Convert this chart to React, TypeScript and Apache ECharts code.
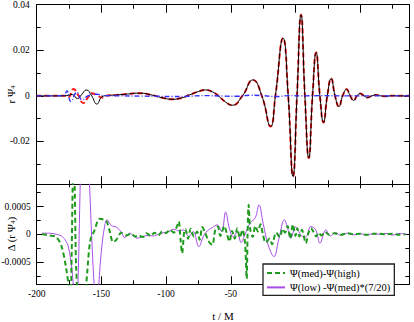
import React, { useEffect, useRef } from "react";
import * as echarts from "echarts";

// ---------- data ----------
const xMajorTicks = [-200, -150, -100, -50, 0, 50];
const xMinorTicks = [-175, -125, -75, -25, 25, 75];
const xTickLabels = [-200, -150, -100, -50];
const yTopMajor = [-0.02, 0, 0.02, 0.04];
const yTopMinor = [-0.03, -0.01, 0.01, 0.03];
const yBotMajor = [-0.0005, 0, 0.0005];
const yBotMinor = [-0.00075, -0.00025, 0.00025, 0.00075];

const tBlack = [-200, -185, -177, -172.5, -168.5, -165.5, -161.5, -157.5, -153.5, -149.5,
  -145, -138, -130, -120, -112, -103, -95.3, -88, -82, -75,
  -69.5, -64, -60, -54, -48.8, -41, -32.9, -26, -19.2, -15.5,
  -9.6, -5.6, -1.9, 1.2, 4.3, 7.3, 10.3, 13.2, 16, 18.9,
  21.7, 24.6, 27.6, 30.6, 33.6, 36.5, 39.5, 42.3, 45, 47.5,
  50, 53, 55.8, 59, 62.5, 66, 70, 75, 80, 88];
const vBlack = [0, 0, 0.0001, 0.0006, -0.0012, 0.0004, 0.0026, 0, -0.0036, -0.0004,
  0.0002, 0.0004, 0.0008, 0.0012, 0.0005, -0.0008, -0.0015, -0.0009, 0.0004, 0.0019,
  0.0026, 0.0017, 0.0002, -0.0027, -0.0041, 0, 0.007, 0, -0.0134, 0,
  0.0253, 0, -0.0353, 0, 0.0356, 0, -0.0273, 0, 0.019, 0,
  -0.0117, 0, 0.0076, 0, -0.0047, 0, 0.0029, 0, -0.002, 0,
  0.001, 0, -0.0007, 0, 0.0004, 0, -0.0002, 0.0001, 0, 0];

const tRedEarly = [-200, -185, -179, -175.5, -171.6, -168, -163.9, -160.5, -157.4, -153.5, -149.6, -146];
const vRedEarly = [0, 0, 0.0001, -0.0005, 0.003, 0.0004, -0.0031, -0.0008, 0.0012, 0.0002, -0.0007, 0.0001];

const tBlue = [-200, -185, -179, -176.7, -173.6, -169, -165, -160, -153.5, -148, -135, -120, -105, -95,
  -85, -70, -55, -45, -35, -25, -15, -5, 5, 20, 40, 60, 88];
const vBlue = [0, 0, 0.0002, 0.0022, -0.0025, 0.0016, -0.0017, 0.0001, 0.0007, 0.0001, 0, -0.0001, -0.0002, -0.0003,
  -0.0002, 0.0001, -0.0001, -0.0002, 0.0003, 0.0001, -0.0003, 0.0001, 0, 0.0001, 0, 0, 0];

const tPurple = [-196, -190, -185, -181, -178, -175.5, -173, -171, -169.5, -168, -166, -163, -160, -157, -155,
  -153.5, -152, -150, -147.6, -145.7, -142.4, -138.5, -134.7, -132, -128.2, -125, -122.5, -118, -114, -110,
  -106, -102, -98, -94, -90, -86.4, -82.5, -79, -74.7, -71, -68.2, -64.3, -60.5, -57, -54,
  -51, -48, -45, -42, -39, -35, -31, -28.2, -25, -21, -16.6, -13, -8.5, -6, -3.6,
  0.2, 2.5, 5.4, 8, 11.9, 15.7, 19, 23.5, 27, 31, 35, 40, 45, 50, 55,
  60, 65, 70, 75, 80, 86];
const vPurple = [0.00002, 0.00002, 0, -0.00003, -0.0001, -0.00023, -0.0006, -0.0011, -0.0015, -0.0008, 0.0012, 0.003, 0.0014, -0.0003, -0.0011,
  -0.0014, -0.0009, -0.0003, 0.00013, 0.00026, 0.00016, 0.00013, 0.00004, -0.00006, 0.00002, -0.00003, -0.00007, -0.00004, -0.00002, -0.00003,
  0, 0.00003, 0.00005, 0.00009, 0.00006, 0.00008, -0.00004, 0.00005, -0.00022, -0.00003, 0.00006, 0.00012, 0.00017, 0.00005, 0.0004,
  0.0001, -0.00005, 0.00005, -0.00015, 0, 0.0002, 0.0003, 0.00053, 0.0002, -0.0002, -0.0004, -0.0001, 0.00026, 0.0001, -0.00007,
  0.00013, 0.00005, -0.00004, -0.00005, 0.00014, 0.00008, -0.00016, 0.00008, -0.00003, 0.00003, -0.00002, 0.00002, -0.00001, 0.00001, -0.00001,
  0.00001, 0, 0.000015, -0.000015, 0.000015, 0];

const tGreen = [-196, -190, -185, -181, -177.3, -175, -174, -173, -172.2, -171.5, -170.6, -169.5, -167, -165, -163,
  -161, -158.5, -155.3, -151.5, -146.3, -143.5, -141, -138.5, -134.6, -130.8, -127, -124, -121, -118, -115,
  -112, -109, -106, -103, -100, -97, -94, -92, -90.2, -88.8, -87.6, -86, -85, -83, -81,
  -78.5, -76, -74, -72, -70, -67, -64.3, -62, -60, -58, -55, -53, -51, -49, -47,
  -45, -43, -41, -39, -37.7, -37, -36.2, -35, -33, -31, -29, -27, -25, -23, -20,
  -18, -15, -12, -10, -8, -6, -4, -2, 0, 1.5, 3, 5, 8, 10, 12,
  14, 16, 18, 20, 23, 26, 30, 35, 40, 45, 50, 55, 60, 65, 70,
  75, 80, 85];
const vGreen = [0, -0.00002, -0.00005, -0.0002, -0.0006, -0.001, -0.0013, -0.0004, 0.0009, 0.0016, 0.0008, -0.0006, -0.0016, -0.002, -0.0013,
  -0.0007, -0.0001, 0.00007, 0.00028, 0.00024, 0.00005, -0.00014, -0.0001, 0.00003, -0.00002, 0.00001, -0.00004, -0.00002, -0.00005, 0.00002,
  -0.00003, 0.00003, -0.00002, 0.00005, 0.00002, 0.00008, 0.00003, 0.00012, 0.00023, -0.0001, -0.00034, 0.00005, 0.00009, -0.00008, 0.0001,
  -0.00004, 0.00005, -0.0001, 0.00013, 0.00004, -0.00013, -0.00019, 0.00008, 0.00014, -0.00003, 0.00015, 0.00001, -0.00013, 0.00006, -0.00008,
  0.00011, -0.00006, 0.00008, -0.00015, -0.0008, 0, 0.00053, 0.0001, -0.00005, 0.00015, 0.00005, 0.00018, -0.00002, -0.00015, -0.00008,
  -0.00018, 0.00003, -0.00005, 0.0001, 0.00003, 0.00015, -0.00008, 0.00018, -0.00003, 0.00011, -0.00004, 0.00008, -0.00016, 0.00002, 0.00011,
  0.00004, -0.00004, 0.00003, -0.00002, 0.00004, -0.00001, 0.00002, -0.00001, 0.00002, 0, 0.00001, -0.00001, 0.00001, 0.00001, 0,
  0.00001, -0.00001, 0];

const legendNames = ["\u03A8(med)-\u03A8(high)", "\u03A8(low) -\u03A8(med)*(7/20)"];

// ---------- helpers ----------
const FONT = "'Liberation Serif', 'Times New Roman', serif";
const zip = (t: number[], v: number[]) => t.map((x, i) => [x, v[i]]);

function xAx(gridIndex: number, position: string, ticks: number[], len: number, line: boolean, extra: any = {}) {
  return {
    type: "value", gridIndex, position, min: -200, max: 88,
    axisLine: { show: line, onZero: false, lineStyle: { color: "#000", width: 1 } },
    axisTick: { show: true, inside: true, length: len, customValues: ticks, lineStyle: { color: "#000", width: 1 } },
    axisLabel: { show: false },
    splitLine: { show: false },
    ...extra,
  };
}
function yAx(gridIndex: number, position: string, min: number, max: number, ticks: number[], len: number, line: boolean, extra: any = {}) {
  return {
    type: "value", gridIndex, position, min, max,
    axisLine: { show: line, onZero: false, lineStyle: { color: "#000", width: 1 } },
    axisTick: { show: true, inside: true, length: len, customValues: ticks, lineStyle: { color: "#000", width: 1 } },
    axisLabel: { show: false },
    splitLine: { show: false },
    ...extra,
  };
}

export default function App() {
  const ref = useRef<HTMLDivElement>(null);
  useEffect(() => {
    if (!ref.current) return;
    const chart = echarts.init(ref.current, null, { renderer: "svg" });
    const topMin = -0.0388, topMax = 0.04, botMin = -0.0009, botMax = 0.0009;
    const redData = zip(tRedEarly, vRedEarly).concat(zip(tBlack, vBlack).filter((p) => p[0] > -146));
    const nameRich = {
      m: { fontFamily: FONT, fontSize: 11, color: "#000", lineHeight: 12 },
      s: { fontFamily: FONT, fontSize: 7, color: "#000", lineHeight: 8, padding: [4, 0, 0, 0], verticalAlign: "bottom" },
    };
    const option: any = {
      animation: false,
      backgroundColor: "#fff",
      grid: [
        { left: 36.7, top: 4.7, width: 372.6, height: 179.6, outerBoundsMode: "none" },
        { left: 36.7, top: 184.3, width: 372.6, height: 100, outerBoundsMode: "none" },
      ],
      xAxis: [
        xAx(0, "bottom", xMajorTicks, 8, true),
        xAx(0, "bottom", xMinorTicks, 4, false),
        xAx(0, "top", xMajorTicks, 8, true),
        xAx(0, "top", xMinorTicks, 4, false),
        xAx(1, "bottom", xMajorTicks, 8, true, {
          axisLabel: { show: true, customValues: xTickLabels, fontFamily: FONT, fontSize: 9.5, color: "#000", margin: 5, formatter: (v: number) => String(v) },
          name: "t / M", nameLocation: "middle", nameGap: 26, nameMoveOverlap: false,
          nameTextStyle: { fontFamily: FONT, fontSize: 11, color: "#000" },
        }),
        xAx(1, "bottom", xMinorTicks, 4, false),
        xAx(1, "top", xMajorTicks, 4, false),
        xAx(1, "top", xMinorTicks, 3, false),
      ],
      yAxis: [
        yAx(0, "left", topMin, topMax, yTopMajor, 7, true, {
          axisLabel: { show: true, customValues: yTopMajor, fontFamily: FONT, fontSize: 9.5, color: "#000", margin: 7, formatter: (v: number) => (v === 0 ? "0" : String(v)) },
          name: "{m|r \u03A8}{s|4}", nameLocation: "middle", nameGap: 20, nameRotate: 90, nameMoveOverlap: false,
          nameTextStyle: { fontFamily: FONT, fontSize: 11, color: "#000", rich: nameRich },
        }),
        yAx(0, "left", topMin, topMax, yTopMinor, 4, false),
        yAx(0, "right", topMin, topMax, yTopMajor, 5, true),
        yAx(0, "right", topMin, topMax, yTopMinor, 4, false),
        yAx(1, "left", botMin, botMax, yBotMajor, 7, true, {
          axisLabel: { show: true, customValues: yBotMajor, fontFamily: FONT, fontSize: 9.5, color: "#000", margin: 6, formatter: (v: number) => (v === 0 ? "0" : String(v)) },
          name: "{m|\u0394 (r \u03A8}{s|4}{m|)}", nameLocation: "middle", nameGap: 20, nameRotate: 90, nameMoveOverlap: false,
          nameTextStyle: { fontFamily: FONT, fontSize: 11, color: "#000", rich: nameRich },
        }),
        yAx(1, "left", botMin, botMax, yBotMinor, 4, false),
        yAx(1, "right", botMin, botMax, yBotMajor, 4, true),
        yAx(1, "right", botMin, botMax, yBotMinor, 4, false),
      ],
      legend: {
        data: legendNames,
        orient: "vertical",
        left: 263, top: 264,
        padding: [3, 4, 2, 3],
        itemGap: 2.4,
        itemWidth: 18, itemHeight: 10,
        itemStyle: { opacity: 0 },
        backgroundColor: "#fff",
        borderColor: "#222", borderWidth: 1.3,
        textStyle: { fontFamily: FONT, fontSize: 10.5, color: "#000", lineHeight: 12 },
        selectedMode: false,
      },
      series: [
        {
          type: "line", name: "red", xAxisIndex: 0, yAxisIndex: 0, data: redData, symbol: "none", smooth: 0.5,
          lineStyle: { color: "#ff1a1a", width: 2, type: [5, 3] }, z: 2,
        },
        {
          type: "line", name: "black", xAxisIndex: 0, yAxisIndex: 0, data: zip(tBlack, vBlack), symbol: "none", smooth: 0.5,
          lineStyle: { color: "#000", width: 1 }, z: 3,
        },
        {
          type: "line", name: "blue", xAxisIndex: 0, yAxisIndex: 0, data: zip(tBlue, vBlue), symbol: "none", smooth: 0.5,
          lineStyle: { color: "#3030ff", width: 1.4, type: [5, 2, 1, 2] }, z: 4,
        },
        {
          type: "line", name: legendNames[0], xAxisIndex: 4, yAxisIndex: 4, data: zip(tGreen, vGreen), symbol: "none", smooth: 0.3,
          lineStyle: { color: "#1f9a1f", width: 2, type: [5, 3] }, itemStyle: { color: "#1f9a1f" }, z: 3,
        },
        {
          type: "line", name: legendNames[1], xAxisIndex: 4, yAxisIndex: 4, data: zip(tPurple, vPurple), symbol: "none", smooth: 0.4,
          lineStyle: { color: "#a84ee8", width: 1 }, itemStyle: { color: "#a84ee8" }, z: 2,
        },
      ],
    };
    chart.setOption(option);
    return () => chart.dispose();
  }, []);
  return <div ref={ref} style={{ position: "absolute", left: 0, top: 0, width: 414, height: 322 }} />;
}
